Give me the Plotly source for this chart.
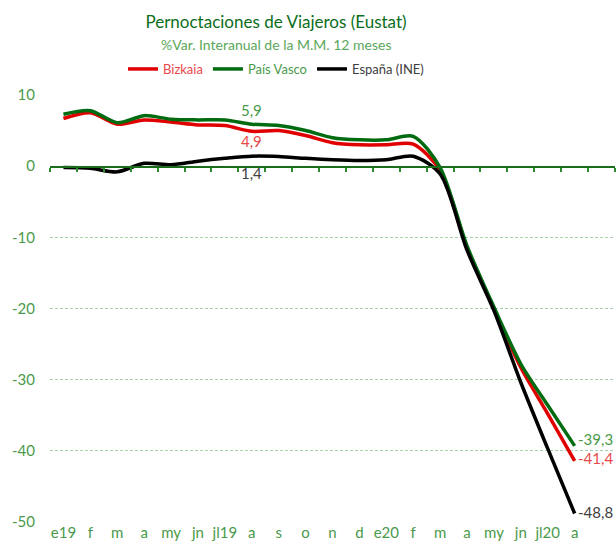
import plotly.graph_objects as go

# Meses (e19 .. a20)
months = ["e19", "f", "m", "a", "my", "jn", "jl19", "a", "s", "o", "n", "d",
          "e20", "f", "m", "a", "my", "jn", "jl20", "a"]

bizkaia = [6.7, 7.5, 5.9, 6.5, 6.2, 5.8, 5.7, 4.9, 5.0, 4.3, 3.3, 3.0,
           3.0, 3.1, -0.6, -11.5, -20.0, -28.3, -34.8, -41.4]
pais_vasco = [7.3, 7.8, 6.1, 7.1, 6.6, 6.5, 6.5, 5.9, 5.7, 5.0, 4.0, 3.7,
              3.7, 4.2, -0.2, -11.2, -19.8, -27.8, -33.6, -39.3]
espana = [-0.2, -0.3, -0.8, 0.4, 0.2, 0.7, 1.1, 1.4, 1.35, 1.1, 0.9, 0.8,
          0.9, 1.4, -1.1, -11.8, -20.3, -30.4, -39.7, -48.8]

y_ticks = [-50, -40, -30, -20, -10, 0, 10]

# nombre, valores, color linea, color texto, desplazamiento etiqueta final
series = [
    ("Bizkaia", bizkaia, "#e00000", "#e84848", 3),
    ("País Vasco", pais_vasco, "#006b10", "#4a9a4a", 7),
    ("España (INE)", espana, "#000000", "#404040", 1),
]

FONT = "Lato"
GREEN_TXT = "#4a9a4a"
x = list(range(len(months)))


def fmt(v):
    return f"{v:.1f}".replace(".", ",")


fig = go.Figure()
for name, vals, col, txtcol, _ in series:
    fig.add_trace(go.Scatter(
        x=x, y=vals, mode="lines",
        name=f'<span style="color:{txtcol}">{name}</span>',
        line=dict(color=col, width=3.5, shape="spline", smoothing=0.8),
    ))

# eje en el cero (subplot auxiliar, sin datos)
fig.add_trace(go.Scatter(x=[], y=[], xaxis="x2", yaxis="y2", showlegend=False,
                         hoverinfo="skip"))

# etiquetas de datos (agosto 2019)
i_ag = 7
fig.add_annotation(x=i_ag, y=pais_vasco[i_ag], text=fmt(pais_vasco[i_ag]), showarrow=False,
                   yshift=14, font=dict(color=GREEN_TXT, size=15, family=FONT))
fig.add_annotation(x=i_ag, y=bizkaia[i_ag], text=fmt(bizkaia[i_ag]), showarrow=False,
                   yshift=-10, font=dict(color="#e84848", size=15, family=FONT))
fig.add_annotation(x=i_ag, y=espana[i_ag], text=fmt(espana[i_ag]), showarrow=False,
                   yshift=-17, font=dict(color="#404040", size=15, family=FONT))

# etiquetas finales
last = len(months) - 1
for name, vals, col, txtcol, ysh in series:
    fig.add_annotation(x=last, y=vals[last], text=fmt(vals[last]), showarrow=False,
                       xanchor="left", xshift=1, yshift=ysh,
                       font=dict(color=txtcol, size=15, family=FONT))

# subtitulo
fig.add_annotation(text="%Var. Interanual de la M.M. 12 meses", xref="paper", yref="paper",
                   x=(276 - 50) / 565, y=1, yanchor="middle", yshift=51, showarrow=False,
                   font=dict(color="#5aa85a", size=14, family=FONT))

fig.update_layout(
    width=616, height=552,
    margin=dict(l=50, r=1, t=95, b=30, autoexpand=False),
    plot_bgcolor="rgba(0,0,0,0)", paper_bgcolor="white",
    font=dict(family=FONT, color=GREEN_TXT),
    title=dict(text="Pernoctaciones de Viajeros (Eustat)", x=276 / 616, xanchor="center",
               y=1 - 22 / 552, yanchor="middle",
               font=dict(color="#0a6e1a", size=17, family=FONT)),
    legend=dict(orientation="h", xref="container", yref="container",
                x=276 / 616, xanchor="center", y=1 - 69 / 552, yanchor="middle",
                font=dict(size=13, family=FONT), itemwidth=30,
                bgcolor="rgba(0,0,0,0)"),
    xaxis=dict(range=[-0.5, 20.5], tickvals=x, ticktext=months, showgrid=False,
               zeroline=False, showline=False, ticks="", automargin=False,
               tickfont=dict(size=15, color=GREEN_TXT, family=FONT)),
    yaxis=dict(range=[-50, 10], tickvals=y_ticks, ticktext=[str(v) for v in y_ticks],
               showgrid=True, gridcolor="#a9cfa9", griddash="3px,2px", gridwidth=1,
               zeroline=False, showline=False, ticklabelstandoff=14, automargin=False,
               tickfont=dict(size=15, color=GREEN_TXT, family=FONT)),
    xaxis2=dict(anchor="y2", overlaying="x", range=[-0.5, 20.5],
                tickvals=[i - 0.5 for i in range(22)], showticklabels=False,
                ticks="outside", ticklen=4, tickcolor="#2e8b2e", tickwidth=1.5,
                showline=True, linecolor="#1a6e1a", linewidth=1.5,
                showgrid=False, zeroline=False, automargin=False),
    yaxis2=dict(domain=[50 / 60, 1], visible=False, range=[0, 1], automargin=False),
)

fig.write_html("out.html", config={"displayModeBar": False},
               post_script="document.body.style.margin='0';"
                           "document.body.style.overflow='hidden';")
